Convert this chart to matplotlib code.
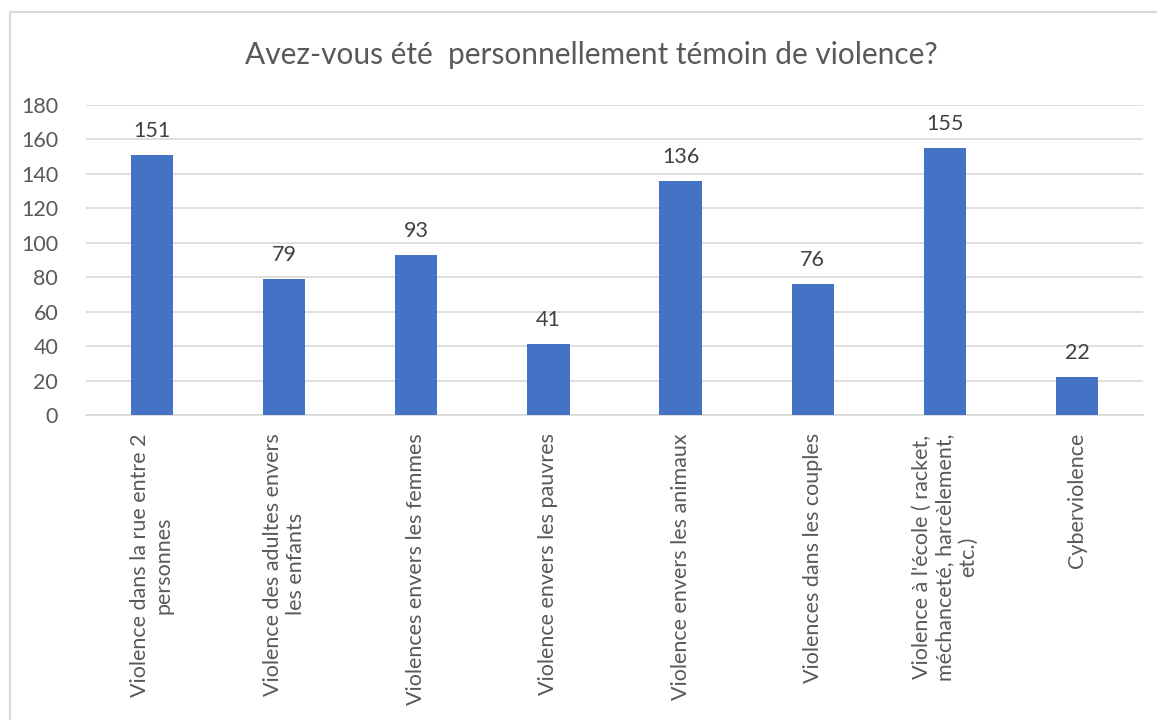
import matplotlib
matplotlib.use("Agg")
import matplotlib.pyplot as plt
from matplotlib.patches import Rectangle

categories = [
    "Violence dans la rue entre 2\npersonnes",
    "Violence des adultes envers\nles enfants",
    "Violences envers les femmes",
    "Violence envers les pauvres",
    "Violence envers les animaux",
    "Violences dans les couples",
    "Violence à l'école ( racket,\nméchanceté, harcèlement,\netc.)",
    "Cyberviolence",
]
values = [151, 79, 93, 41, 136, 76, 155, 22]
yticks = [0, 20, 40, 60, 80, 100, 120, 140, 160, 180]
title = "Avez-vous été  personnellement témoin de violence?"

plt.rcParams['font.family'] = ['Lato', 'DejaVu Sans']

fig = plt.figure(figsize=(11.57, 7.2), dpi=100)
fig.patches.append(Rectangle((10/1157, -0.1), 1.2, (720-12)/720 + 0.1,
                             transform=fig.transFigure, fill=False,
                             edgecolor='#d9d9d9', linewidth=1.5))
ax = fig.add_axes([86/1157, (720-415)/720, (1143-86)/1157, 310/720])

x = list(range(len(categories)))
bars = ax.bar(x, values, width=0.32, color='#4472C4', zorder=3)
for xi, v in zip(x, values):
    ax.annotate(str(v), (xi, v), xytext=(0, 10), textcoords='offset points',
                ha='center', va='bottom', fontsize=15.5, color='#404040')

ax.set_xlim(-0.5, len(categories) - 0.5)
ax.set_ylim(0, 180)
ax.set_yticks(yticks)
ax.set_yticklabels([str(t) for t in yticks], fontsize=15.5, color='#595959')
ax.yaxis.grid(True, color='#d9d9d9', linewidth=1.2, zorder=0)
ax.set_xticks(x)
ax.set_xticklabels(categories, rotation=90, ha='center', va='top',
                   multialignment='center', fontsize=15.5, color='#595959')
ax.tick_params(axis='both', length=0)
ax.tick_params(axis='y', pad=20)
ax.tick_params(axis='x', pad=13)
for s in ['top', 'right', 'left']:
    ax.spines[s].set_visible(False)
ax.spines['bottom'].set_color('#d9d9d9')
ax.spines['bottom'].set_linewidth(1.2)

fig.text(591/1157, 1 - 55/720, title, ha='center', va='center',
         fontsize=21.5, color='#595959')

fig.savefig('out.png', dpi=100)
